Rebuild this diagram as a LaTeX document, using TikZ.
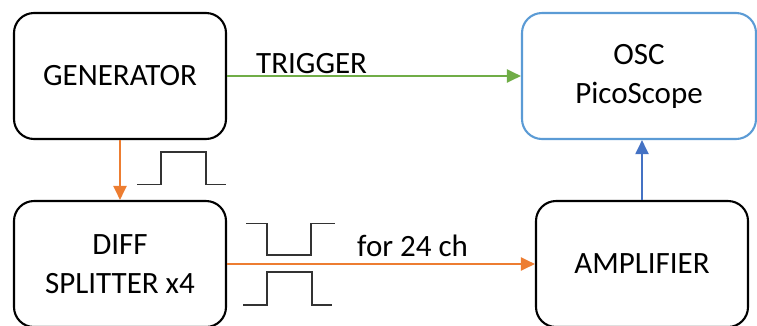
\documentclass[tikz,border=0pt]{standalone}
\usepackage{fontspec}
\setmainfont{Carlito}
\usetikzlibrary{arrows.meta}
\definecolor{trig}{HTML}{70AD47}
\definecolor{sig}{HTML}{ED7D31}
\definecolor{oscline}{HTML}{5B9BD5}
\definecolor{ampline}{HTML}{4472C4}
\begin{document}
\begin{tikzpicture}[x=1pt,y=-1pt,
  box/.style={draw=black,line width=2.1pt,rounded corners=20pt,minimum width=212pt,minimum height=126pt,align=center,inner sep=0pt,font=\fontsize{31}{39}\selectfont},
  lbl/.style={inner sep=0pt,font=\fontsize{31}{39}\selectfont,anchor=base west},
  conn/.style={line width=2pt,-{Triangle[length=14pt,width=13pt]}},
  pulse/.style={draw=black!80,line width=1.3pt}]
\useasboundingbox (0,0) rectangle (757,325);
\node[box] (gen) at (120,76) {GENERATOR};
\node[box] (diff) at (120,264) {DIFF\\SPLITTER x4};
\node[box,draw=oscline,minimum width=234pt] (osc) at (639,76) {OSC\\PicoScope};
\node[box] (amp) at (642,264) {AMPLIFIER};
\node[lbl] (tl) at (256,73) {TRIGGER};
\node[lbl] (fl) at (357,256.5) {for 24 ch};
\draw[conn,trig] (gen.east) -- (gen.east -| osc.west);
\draw[conn,sig] (gen.south) -- (diff.north);
\draw[conn,sig] (diff.east) -- (amp.west);
\draw[conn,ampline] (amp.north) -- (amp.north |- osc.south);
\draw[pulse] (137,184.5) -- (161,184.5) -- (161,152) -- (206,152) -- (206,184.5) -- (226,184.5);
\draw[pulse] (246,223.5) -- (267,223.5) -- (267,255) -- (311,255) -- (311,223.5) -- (335,223.5);
\draw[pulse] (243,305) -- (267,305) -- (267,272) -- (312,272) -- (312,305) -- (332,305);
\end{tikzpicture}
\end{document}
